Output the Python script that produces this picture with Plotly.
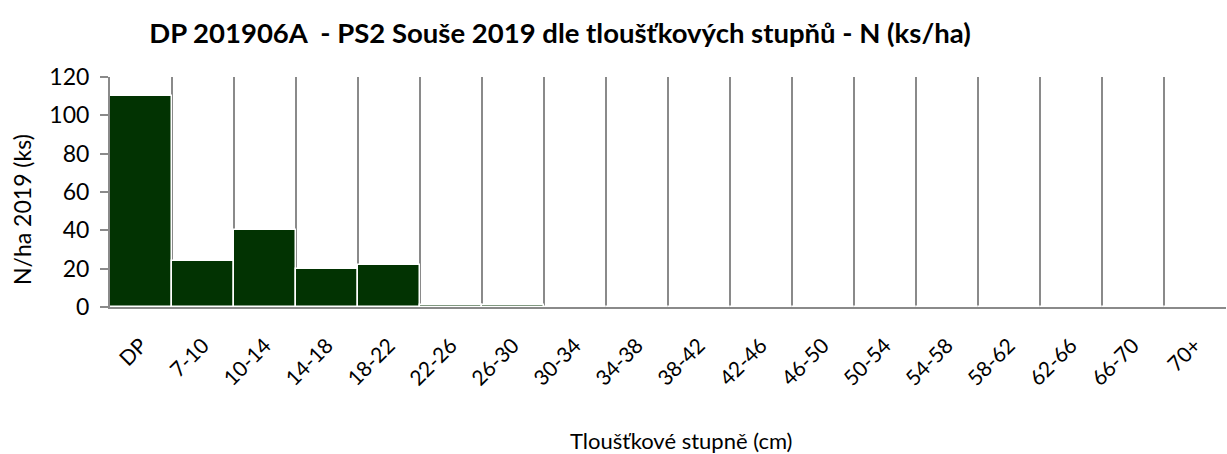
import plotly.graph_objects as go

categories = ["DP", "7-10", "10-14", "14-18", "18-22", "22-26", "26-30", "30-34", "34-38",
              "38-42", "42-46", "46-50", "50-54", "54-58", "58-62", "62-66", "66-70", "70+"]
values = [110, 24, 40, 20, 22, 1, 1, 0, 0, 0, 0, 0, 0, 0, 0, 0, 0, 0]

title_text = "DP 201906A  - PS2 Souše 2019 dle tloušťkových stupňů - N (ks/ha)"
x_title = "Tloušťkové stupně (cm)"
y_title = "N/ha 2019 (ks)"
y_ticks = [0, 20, 40, 60, 80, 100, 120]

font_family = "Lato, Open Sans, sans-serif"
W, H = 1227, 454

fig = go.Figure(go.Bar(
    x=categories, y=values,
    marker=dict(color="#023302", line=dict(color="white", width=1.5)),
))

fig.update_layout(
    width=W, height=H,
    margin=dict(l=110, r=1, t=77, b=147),
    paper_bgcolor="white", plot_bgcolor="white",
    bargap=0,
    showlegend=False,
    font=dict(family=font_family, color="black"),
    title=dict(text="<b>" + title_text + "</b>", x=560 / W, xanchor="center",
               y=1 - 33 / H, yanchor="middle", font=dict(size=27.5, family=font_family)),
    annotations=[
        dict(text=x_title, xref="paper", yref="paper", x=(681 - 110) / (W - 111),
             y=-(440 - 307) / 230, xanchor="center", yanchor="middle", showarrow=False,
             font=dict(size=22, family=font_family)),
        dict(text=y_title, xref="paper", yref="paper", x=-(110 - 22) / (W - 111),
             y=(307 - 210) / 230, xanchor="center", yanchor="middle", showarrow=False,
             textangle=-90, font=dict(size=23, family=font_family)),
    ],
)

fig.update_xaxes(
    type="category", tickson="boundaries", showgrid=True, gridcolor="#8a8a8a", gridwidth=1.5,
    showline=True, linecolor="#8a8a8a", linewidth=2, ticks="", tickangle=-45,
    ticklabelstandoff=16, automargin=False, tickfont=dict(size=21),
)
fig.update_yaxes(
    range=[0, 120], tickvals=y_ticks, showgrid=False, zeroline=False,
    showline=True, linecolor="#8a8a8a", linewidth=2, ticks="outside", ticklen=8,
    tickcolor="#8a8a8a", tickwidth=2, tickfont=dict(size=23), ticklabelstandoff=6,
    automargin=False,
)

fig.write_html("out.html", config={"displayModeBar": False},
               post_script="document.body.style.margin='0';document.body.style.overflow='hidden';")
